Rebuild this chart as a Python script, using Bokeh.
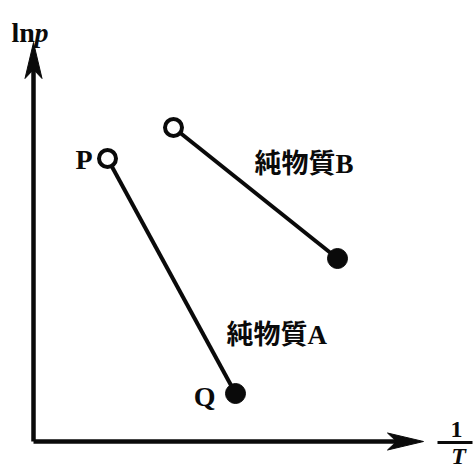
from bokeh.plotting import figure
from bokeh.models import Range1d, Label, ColumnDataSource
from bokeh.core.properties import value
from bokeh.embed import file_html
from bokeh.resources import INLINE

# ln p against 1/T for two pure substances (arbitrary units)
a_x = [1.85, 5.05]      # 1/T : P (open), Q (filled)
a_y = [7.075, 1.2]      # ln p
b_x = [3.5, 7.6]        # 1/T : open end, filled end
b_y = [7.85, 4.575]     # ln p
point_names = ["P", "Q"]
series_names = ["純物質A", "純物質B"]

W, H = 473, 468
PX = 40.0                 # pixels per unit
ORIGIN = (33, 441)        # axis corner on the page

x_end = 9.75              # tip of the 1/T axis
y_end = 9.975             # tip of the ln p axis

p = figure(width=W, height=H, output_backend="svg", toolbar_location=None,
           x_range=Range1d(-ORIGIN[0] / PX, (W - ORIGIN[0]) / PX),
           y_range=Range1d((ORIGIN[1] - H) / PX, ORIGIN[1] / PX),
           min_border=0, outline_line_color=None)
p.axis.visible = False
p.grid.visible = False
p.background_fill_color = "white"
p.border_fill_color = "white"

INK = "#0a0a0a"

# axes with notched arrowheads
p.segment(x0=[0, 0], y0=[0, 0], x1=[x_end - 0.5, 0], y1=[0, y_end - 0.5],
          line_width=4.5, line_color=INK)
hl, hw, hn = 36 / PX, 8.5 / PX, 27 / PX
p.patches(
    xs=[[x_end, x_end - hl, x_end - hn, x_end - hl],
        [0, -hw, 0, hw]],
    ys=[[0, hw, 0, -hw],
        [y_end, y_end - hl, y_end - hn, y_end - hl]],
    fill_color=INK, line_color=INK, line_width=1)

# the two ln p - 1/T lines
p.line(a_x, a_y, line_width=4, line_color=INK)
p.line(b_x, b_y, line_width=4, line_color=INK)

open_src = ColumnDataSource(dict(x=[a_x[0], b_x[0]], y=[a_y[0], b_y[0]]))
fill_src = ColumnDataSource(dict(x=[a_x[1], b_x[1]], y=[a_y[1], b_y[1]]))
p.scatter("x", "y", source=open_src, marker="circle", size=17,
          fill_color="white", line_color=INK, line_width=4)
p.scatter("x", "y", source=fill_src, marker="circle", size=20,
          fill_color=INK, line_color=INK, line_width=1)

SERIF = "Liberation Serif"
CJK = "Liberation Serif, Noto Sans CJK JP"

# point names
p.text(x=[a_x[0]], y=[a_y[0]], text=[point_names[0]], x_offset=-15, y_offset=1,
       text_align="right", text_baseline="middle", text_font=value(SERIF),
       text_font_style="bold", text_font_size="28px", text_color=INK)
p.text(x=[a_x[1]], y=[a_y[1]], text=[point_names[1]], x_offset=-20, y_offset=3,
       text_align="right", text_baseline="middle", text_font=value(SERIF),
       text_font_style="bold", text_font_size="28px", text_color=INK)

# series names
for name, (lx, ly) in zip(series_names, [(226, 134), (254, 305)]):
    p.add_layout(Label(x=lx, y=ly, x_units="screen", y_units="screen", text=name,
                       text_font=CJK, text_font_style="bold", text_font_size="27px",
                       text_baseline="middle", text_color=INK))

# axis titles: ln p and 1/T
p.add_layout(Label(x=11, y=H - 32, x_units="screen", y_units="screen", text="ln",
                   text_font=SERIF, text_font_style="bold", text_font_size="28px",
                   text_baseline="alphabetic", text_color=INK))
p.add_layout(Label(x=34, y=H - 32, x_units="screen", y_units="screen", text="p",
                   text_font=SERIF, text_font_style="bold italic", text_font_size="28px",
                   text_baseline="alphabetic", text_color=INK))
p.add_layout(Label(x=456, y=H - 429, x_units="screen", y_units="screen", text="1",
                   text_font=SERIF, text_font_style="bold", text_font_size="24px",
                   text_align="center", text_baseline="middle", text_color=INK))
p.add_layout(Label(x=458, y=H - 455, x_units="screen", y_units="screen", text="T",
                   text_font=SERIF, text_font_style="bold italic", text_font_size="24px",
                   text_align="center", text_baseline="middle", text_color=INK))
bar_y = (ORIGIN[1] - 442) / PX
p.line([(437 - ORIGIN[0]) / PX, (472 - ORIGIN[0]) / PX], [bar_y, bar_y],
       line_width=3, line_color=INK)

open("out.html", "w").write(file_html(p, INLINE))
